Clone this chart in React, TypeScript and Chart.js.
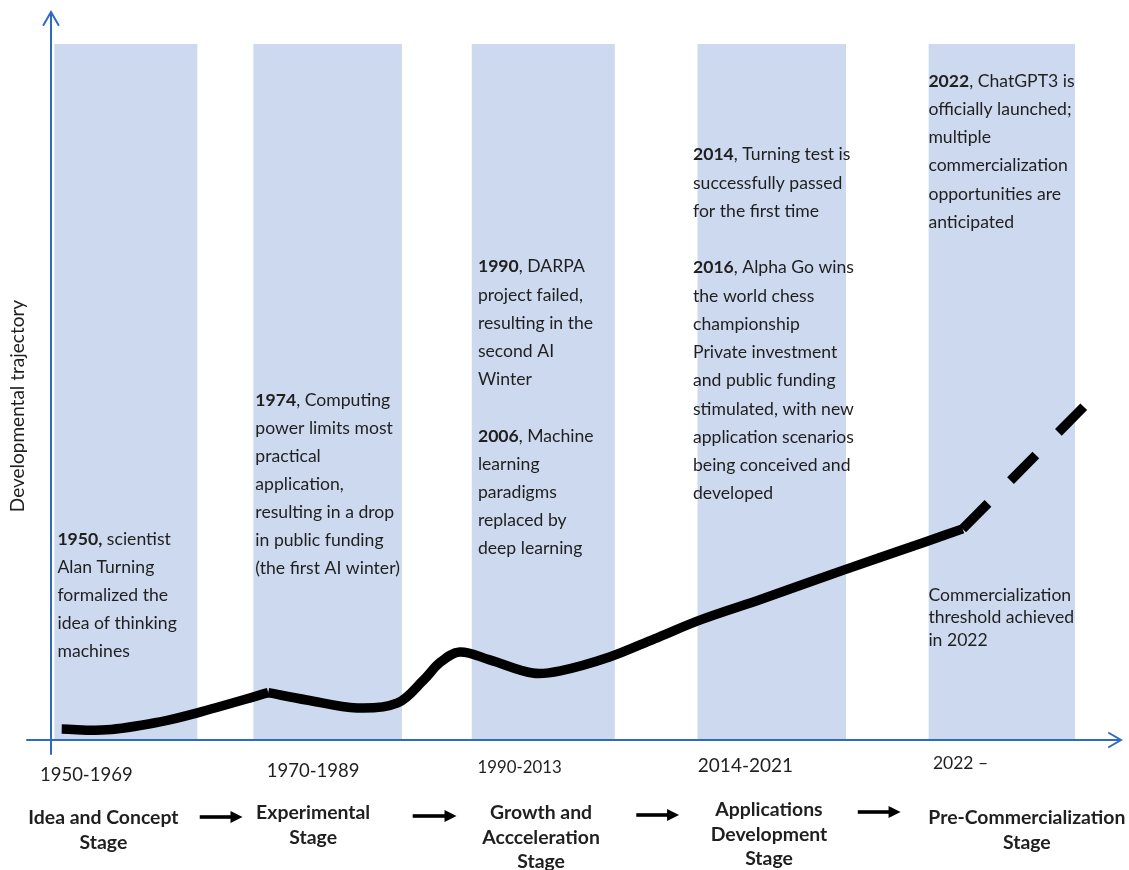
import React, { useEffect, useRef } from "react";
import { Chart, registerables } from "chart.js";

Chart.register(...registerables);

// ---- data (abstract timeline position 0-100, developmental level 0-100) ----
const bandStarts = [0.3, 18.9, 39.3, 60.4, 82.0];
const bandEnds = [13.7, 32.8, 52.7, 74.3, 95.7];
const bandTop = 95.6;

// early rise up to the 1974 peak
const phase1X = [1.0, 5.2, 10.2, 13.6, 20.3];
const phase1Y = [1.5, 1.4, 2.5, 3.7, 6.5];
// from the 1974 peak to 2022
const phase2X = [20.3, 23.9, 28.6, 32.4, 34.8, 36.4, 38.2, 41.0, 45.0, 47.6, 52.2, 56.4, 60.7, 66.5, 74.0, 81.9, 85.2];
const phase2Y = [6.5, 5.5, 4.4, 5.1, 8.2, 10.7, 12.1, 11.0, 9.2, 9.5, 11.4, 13.9, 16.5, 19.4, 23.3, 27.3, 29.0];
// projected trajectory after 2022
const projectionX = [85.2, 96.8];
const projectionY = [29.0, 46.2];

const periodLabels = ["1950-1969", "1970-1989", "1990-2013", "2014-2021", "2022 \u2013"];
const stageLabels = [
  ["Idea and Concept", "Stage"],
  ["Experimental", "Stage"],
  ["Growth and", "Accceleration", "Stage"],
  ["Applications", "Development", "Stage"],
  ["Pre-Commercialization", "Stage"],
];
const yAxisTitle = "Developmental trajectory";

const notes1 = ["**1950,** scientist", "Alan Turning", "formalized the", "idea of thinking", "machines"];
const notes2 = ["**1974**, Computing", "power limits most", "practical", "application,", "resulting in a drop", "in public funding", "(the first AI winter)"];
const notes3 = ["**1990**, DARPA", "project failed,", "resulting in the", "second AI", "Winter", "", "**2006**, Machine", "learning", "paradigms", "replaced by", "deep learning"];
const notes4 = ["**2014**, Turning test is", "successfully passed", "for the first time", "", "**2016**, Alpha Go wins", "the world chess", "championship", "Private investment", "and public funding", "stimulated, with new", "application scenarios", "being conceived and", "developed"];
const notes5 = ["**2022**, ChatGPT3 is", "officially launched;", "multiple", "commercialization", "opportunities are", "anticipated"];
const notes6 = ["Commercialization", "threshold achieved", "in 2022"];

// ---- layout / style ----
const FONT = "Lato, 'Open Sans', sans-serif";
const TEXT = "#1f1f1f";
const AXIS = "#2F6AC2";
const BAND = "#CDD9EF";

const noteBlocks = [
  { lines: notes1, x: 0.6, y: 27.5, lh: 28 },
  { lines: notes2, x: 19.1, y: 46.7, lh: 28 },
  { lines: notes3, x: 39.9, y: 65.0, lh: 28.2 },
  { lines: notes4, x: 60.0, y: 80.4, lh: 28.25 },
  { lines: notes5, x: 82.0, y: 90.5, lh: 28.2 },
  { lines: notes6, x: 82.0, y: 19.9, lh: 22.5 },
];
const periodPos = [
  { x: 3.3, dy: 35, size: 18.5 },
  { x: 24.5, dy: 31, size: 18.5 },
  { x: 43.8, dy: 28, size: 16.8 },
  { x: 64.9, dy: 26, size: 19 },
  { x: 85.0, dy: 23, size: 17.5 },
];
const stagePos = [
  { x: 4.9, dy: 78 },
  { x: 24.5, dy: 73 },
  { x: 45.8, dy: 73 },
  { x: 67.1, dy: 70 },
  { x: 91.2, dy: 78 },
];
const arrowPos = [
  { x0: 13.9, x1: 17.9, dy: 77 },
  { x0: 33.8, x1: 37.9, dy: 76 },
  { x0: 54.7, x1: 58.7, dy: 75 },
  { x0: 75.4, x1: 79.4, dy: 72 },
];

function drawRich(ctx: CanvasRenderingContext2D, line: string, x: number, y: number, size: number) {
  const m = line.match(/^\*\*(.+?)\*\*(.*)$/);
  const parts: [string, boolean][] = m ? [[m[1], true], [m[2], false]] : [[line, false]];
  let cx = x;
  for (const [t, b] of parts) {
    ctx.font = `${b ? "bold " : ""}${size}px ${FONT}`;
    ctx.fillText(t, cx, y);
    cx += ctx.measureText(t).width;
  }
}

const overlay = {
  id: "overlay",
  afterDatasetsDraw(chart: any) {
    const ctx: CanvasRenderingContext2D = chart.ctx;
    const xs = chart.scales.x;
    const ys = chart.scales.y;
    const { left, right, top, bottom } = chart.chartArea;
    ctx.save();

    // axes
    ctx.strokeStyle = AXIS;
    ctx.lineWidth = 2;
    ctx.lineCap = "round";
    ctx.beginPath();
    ctx.moveTo(left - 24, bottom);
    ctx.lineTo(right, bottom);
    ctx.moveTo(right - 12, bottom - 7);
    ctx.lineTo(right, bottom);
    ctx.lineTo(right - 12, bottom + 7);
    ctx.moveTo(left, bottom + 14);
    ctx.lineTo(left, top);
    ctx.moveTo(left - 7.5, top + 13);
    ctx.lineTo(left, top);
    ctx.lineTo(left + 7.5, top + 13);
    ctx.stroke();

    // annotations
    ctx.fillStyle = TEXT;
    ctx.textBaseline = "middle";
    ctx.textAlign = "left";
    for (const b of noteBlocks) {
      const x0 = xs.getPixelForValue(b.x);
      const y0 = ys.getPixelForValue(b.y);
      b.lines.forEach((ln, i) => {
        if (ln) drawRich(ctx, ln, x0, y0 + i * b.lh, 17.6);
      });
    }

    // y-axis title
    ctx.save();
    ctx.translate(18, (top + bottom) / 2 + 30);
    ctx.rotate(-Math.PI / 2);
    ctx.textAlign = "center";
    ctx.font = `19px ${FONT}`;
    ctx.fillText(yAxisTitle, 0, 0);
    ctx.restore();

    // period labels
    ctx.textAlign = "center";
    periodLabels.forEach((t, i) => {
      const p = periodPos[i];
      ctx.font = `${p.size}px ${FONT}`;
      ctx.fillText(t, xs.getPixelForValue(p.x), bottom + p.dy);
    });

    // stage labels
    ctx.font = `bold 19.4px ${FONT}`;
    stageLabels.forEach((lines, i) => {
      const p = stagePos[i];
      lines.forEach((t, j) => {
        ctx.fillText(t, xs.getPixelForValue(p.x), bottom + p.dy + j * 24.5);
      });
    });

    // arrows between stages
    ctx.fillStyle = "#000";
    for (const a of arrowPos) {
      const x0 = xs.getPixelForValue(a.x0);
      const x1 = xs.getPixelForValue(a.x1);
      const y = bottom + a.dy;
      ctx.fillRect(x0, y - 1.8, x1 - x0 - 10, 3.6);
      ctx.beginPath();
      ctx.moveTo(x1 - 12, y - 6);
      ctx.lineTo(x1, y);
      ctx.lineTo(x1 - 12, y + 6);
      ctx.closePath();
      ctx.fill();
    }
    ctx.restore();
  },
};

const toPoints = (xs: number[], ys: number[]) => xs.map((x, i) => ({ x, y: ys[i] }));

export default function App() {
  const ref = useRef<HTMLCanvasElement | null>(null);
  useEffect(() => {
    if (!ref.current) return;
    const bands = bandStarts.map((s, i) => ({
      data: [
        { x: s, y: bandTop },
        { x: bandEnds[i], y: bandTop },
      ],
      fill: "origin",
      backgroundColor: BAND,
      borderWidth: 0,
      pointRadius: 0,
      tension: 0,
      order: 10,
    }));
    const solid = {
      borderColor: "#000",
      borderWidth: 9.5,
      pointRadius: 0,
      tension: 0.35,
      fill: false,
      borderJoinStyle: "round",
      borderCapStyle: "butt",
      order: 1,
    };
    const chart = new Chart(ref.current, {
      type: "line",
      data: {
        datasets: [
          { ...solid, data: toPoints(phase1X, phase1Y) },
          { ...solid, data: toPoints(phase2X, phase2Y) },
          {
            data: toPoints(projectionX, projectionY),
            borderColor: "#000",
            borderWidth: 9.5,
            pointRadius: 0,
            borderDash: [36, 32],
            fill: false,
            borderCapStyle: "butt",
            order: 2,
          },
          ...bands,
        ] as any,
      },
      options: {
        animation: false,
        responsive: false,
        events: [],
        layout: { padding: { left: 51, right: 8, top: 12, bottom: 130 } },
        scales: {
          x: { type: "linear", min: 0, max: 100, display: false },
          y: { type: "linear", min: 0, max: 100, display: false },
        },
        plugins: { legend: { display: false }, tooltip: { enabled: false } },
      },
      plugins: [overlay],
    });
    return () => chart.destroy();
  }, []);
  return (
    <div style={{ position: "fixed", left: 0, top: 0, width: 1129, height: 870, background: "#fff" }}>
      <canvas ref={ref} width={1129} height={870} style={{ display: "block" }} />
    </div>
  );
}
